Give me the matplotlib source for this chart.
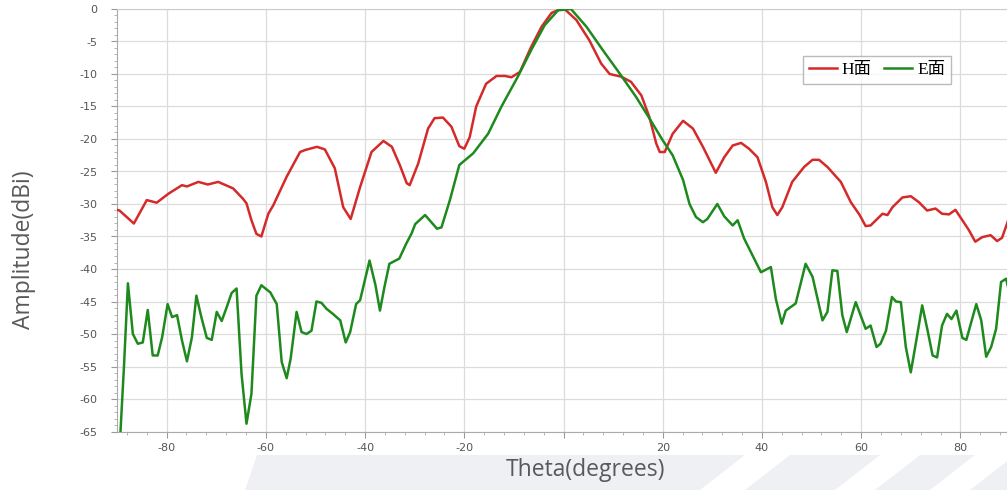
import matplotlib.pyplot as plt
from matplotlib.patches import Polygon
from matplotlib.ticker import MultipleLocator

plt.rcParams['axes.unicode_minus'] = False

# H面 (red) - angle in degrees, amplitude in dBi
h_theta = [-90, -89.5, -86.6, -84.0, -82.0, -79.6, -76.9, -75.9, -73.6, -71.7,
           -69.6, -66.6, -64.6, -63.9, -62.9, -61.9, -60.9, -59.5, -58.5, -55.8,
           -53.1, -52.1, -49.7, -48.1, -46.1, -44.4, -42.9, -41.0, -38.7, -36.3,
           -34.6, -33.0, -31.6, -31.0, -29.3, -27.3, -26.0, -24.3, -22.6, -21.0,
           -20.0, -18.9, -17.6, -15.6, -13.5, -11.8, -10.5, -8.8, -6.5, -4.4,
           -2.4, -0.7, 0.2, 2.6, 5.2, 7.6, 9.3, 11.6, 13.6, 15.7,
           17.3, 18.7, 19.4, 20.4, 22.0, 24.1, 26.1, 28.1, 30.7, 32.4,
           34.1, 35.8, 37.4, 39.1, 40.8, 42.1, 43.1, 44.1, 46.1, 48.5,
           50.2, 51.5, 53.2, 55.9, 57.9, 59.7, 60.9, 61.9, 64.3, 65.3,
           66.3, 68.3, 70.0, 71.6, 73.3, 75.0, 76.3, 77.7, 79.0, 80.4,
           81.7, 83.0, 84.4, 86.1, 87.4, 88.4, 89.5, 90]
h_amp = [-30.9, -31.0, -33.0, -29.4, -29.8, -28.4, -27.1, -27.3, -26.6, -27.0,
         -26.6, -27.6, -29.2, -29.9, -32.5, -34.6, -35.0, -31.5, -30.2, -25.8,
         -22.0, -21.7, -21.2, -21.6, -24.5, -30.5, -32.3, -27.4, -22.0, -20.3,
         -21.2, -24.0, -26.8, -27.1, -23.8, -18.4, -16.8, -16.7, -18.1, -21.1,
         -21.5, -19.7, -15.0, -11.5, -10.3, -10.3, -10.5, -9.7, -5.8, -2.7,
         -0.6, -0.05, 0.0, -1.7, -4.8, -8.4, -10.0, -10.4, -11.2, -13.3,
         -16.6, -20.7, -22.0, -22.0, -19.2, -17.2, -18.4, -21.2, -25.2, -22.8,
         -21.0, -20.6, -21.5, -22.8, -26.6, -30.5, -31.7, -30.5, -26.6, -24.3,
         -23.2, -23.2, -24.3, -26.6, -29.7, -31.7, -33.4, -33.3, -31.5, -31.7,
         -30.5, -29.0, -28.8, -29.7, -31.0, -30.7, -31.5, -31.6, -30.9, -32.5,
         -34.0, -35.8, -35.1, -34.8, -35.7, -35.2, -32.8, -31.5]

# E面 (green)
e_theta = [-90, -89.3, -88.6, -87.8, -86.8, -85.8, -84.8, -83.8, -82.8, -81.8,
           -80.9, -79.8, -78.9, -77.9, -76.9, -75.9, -74.9, -74.0, -73.0, -71.9,
           -70.9, -69.9, -68.9, -67.9, -66.9, -65.9, -64.9, -63.9, -62.9, -61.9,
           -60.9, -59.1, -57.8, -56.8, -55.8, -55.0, -53.8, -52.8, -51.8, -50.8,
           -49.8, -48.8, -47.8, -46.5, -45.0, -43.9, -43.0, -41.8, -41.0, -39.1,
           -37.9, -37.0, -36.1, -35.1, -33.1, -31.7, -30.6, -29.9, -27.9, -25.5,
           -24.6, -22.9, -21.0, -18.2, -15.2, -12.5, -9.2, -6.5, -3.8, -1.1,
           1.5, 4.6, 7.9, 11.3, 14.6, 17.3, 20.0, 22.0, 24.1, 25.4,
           26.7, 28.1, 29.0, 31.0, 32.4, 34.1, 35.1, 36.4, 38.1, 39.8,
           41.8, 42.8, 44.0, 44.8, 46.8, 48.8, 50.2, 52.2, 53.2, 54.2,
           55.2, 56.2, 57.1, 58.9, 60.9, 61.9, 63.1, 63.9, 65.0, 66.2,
           67.0, 68.0, 69.0, 70.0, 71.0, 72.3, 73.4, 74.4, 75.3, 76.3,
           77.3, 78.2, 79.2, 80.4, 81.2, 83.2, 84.2, 85.2, 86.2, 87.2,
           88.2, 89.2, 90]
e_amp = [-75.0, -64.9, -55.1, -42.2, -50.0, -51.5, -51.3, -46.3, -53.3, -53.3,
         -50.5, -45.4, -47.4, -47.1, -51.0, -54.2, -50.5, -44.1, -47.4, -50.6,
         -50.9, -46.6, -48.0, -45.9, -43.7, -43.0, -56.1, -63.8, -59.2, -44.1,
         -42.5, -43.6, -45.4, -54.3, -56.8, -53.8, -46.6, -49.7, -50.0, -49.5,
         -45.0, -45.2, -46.1, -46.9, -47.9, -51.3, -49.7, -45.4, -44.8, -38.7,
         -42.5, -46.4, -42.8, -39.2, -38.4, -36.1, -34.5, -33.1, -31.7, -33.8,
         -33.6, -29.4, -24.0, -22.2, -19.2, -15.0, -10.4, -6.3, -2.5, -0.2,
         0.0, -2.7, -6.3, -9.9, -13.5, -16.8, -20.2, -22.5, -26.3, -30.0,
         -32.0, -32.8, -32.3, -30.0, -31.9, -33.3, -32.5, -35.3, -37.9, -40.5,
         -39.7, -44.6, -48.4, -46.4, -45.3, -39.2, -41.2, -47.9, -46.6, -40.2,
         -40.3, -47.1, -49.7, -45.1, -49.2, -48.7, -52.0, -51.5, -49.5, -44.3,
         -45.0, -45.1, -52.0, -55.9, -51.5, -45.6, -49.5, -53.3, -53.6, -48.7,
         -46.9, -47.7, -46.4, -50.6, -50.9, -45.4, -47.9, -53.5, -52.0, -49.2,
         -42.0, -41.5, -44.0]

x_ticks = [-80, -60, -40, -20, 0, 20, 40, 60, 80]
x_labels = ['-80', '-60', '-40', '-20', '', '20', '40', '60', '80']
y_ticks = list(range(0, -70, -5))

fig = plt.figure(figsize=(10.07, 4.90), dpi=100)

# light grey band with diagonal stripes at the bottom
band = '#eef0f4'
fig.patches.append(Polygon([(257/1007, 35/490), (1.0, 35/490), (1.0, 0), (245/1007, 0)],
                           closed=True, transform=fig.transFigure, facecolor=band,
                           edgecolor='none', zorder=0))
for x0, w in [(745, 45), (880, 40), (975, 40)]:
    fig.patches.append(Polygon([(x0/1007, 35/490), ((x0 + w)/1007, 35/490),
                                ((x0 + w - 45)/1007, 0), ((x0 - 45)/1007, 0)],
                               closed=True, transform=fig.transFigure,
                               facecolor='white', edgecolor='none', zorder=0))

ax = fig.add_axes([117/1007, 58.5/490, 893/1007, 422.5/490])
ax.set_facecolor('white')

ax.plot(h_theta, h_amp, color='#d42a2a', lw=1.8, label='H面', zorder=3)
ax.plot(e_theta, e_amp, color='#1e8a1e', lw=1.8, label='E面', zorder=3)

ax.set_xlim(-90, 90)
ax.set_ylim(-65, 0)
ax.set_xticks(x_ticks)
ax.set_xticklabels(x_labels)
ax.set_yticks(y_ticks)
ax.xaxis.set_minor_locator(MultipleLocator(4))
ax.yaxis.set_minor_locator(MultipleLocator(1))
ax.grid(True, which='major', color='#dcdcdc', lw=0.9)
ax.tick_params(which='major', length=4, color='#999999', labelsize=8,
               labelcolor='#555555')
ax.tick_params(axis='y', which='major', pad=10)
ax.tick_params(axis='x', which='major', pad=4)
ax.tick_params(which='minor', length=2, color='#aaaaaa')
for s in ['left', 'bottom']:
    ax.spines[s].set_color('#aaaaaa')
ax.spines['top'].set_color('#cccccc')
ax.spines['right'].set_visible(False)

leg = ax.legend(loc='upper left', bbox_to_anchor=(0.768, 0.889), ncol=2,
                frameon=True, fancybox=False, borderaxespad=0, handlelength=1.6,
                handletextpad=0.3, columnspacing=0.7, borderpad=0.35,
                prop={'family': ['Liberation Serif', 'Noto Sans CJK SC'], 'size': 12.5})
leg.get_frame().set_edgecolor('#aaaaaa')
leg.get_frame().set_linewidth(1.0)

fig.text(24/1007, 1 - 250/490, 'Amplitude(dBi)', rotation=90, ha='center',
         va='center', fontsize=16.5, color='#595959', family='Open Sans')
fig.text(586/1007, 1 - 470/490, 'Theta(degrees)', ha='center', va='center',
         fontsize=16.5, color='#595959', family='Open Sans')

fig.savefig('out.png', dpi=100)
